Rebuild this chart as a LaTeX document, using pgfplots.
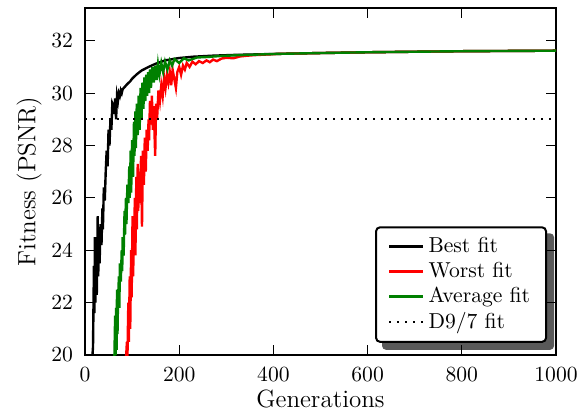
\documentclass[border=0pt]{standalone}
\usepackage{fontspec}
\usepackage{pgfplots}
\pgfplotsset{compat=1.18}
\pgfdeclarelayer{background}
\pgfsetlayers{background,main}
\definecolor{mplgreen}{rgb}{0,0.5,0}

\begin{document}
\begin{tikzpicture}
\useasboundingbox (-42.5pt,-31pt) rectangle (248.5pt,177.5pt);
\begin{axis}[
    scale only axis,
    width=235.5pt, height=173.5pt,
    xmin=0, xmax=1000, ymin=20, ymax=33.25,
    xtick={0,200,...,1000}, ytick={20,22,...,32},
    tick align=inside,
    major tick length=5pt,
    axis line style={line width=1pt},
    every tick/.style={black, line width=0.6pt},
    /pgf/number format/assume math mode=true,
    /pgf/number format/set thousands separator={},
    tick label style={font=\fontsize{10.8}{13}\selectfont},
    yticklabel style={xshift=-2.5pt},
    xticklabel style={yshift=-2.5pt},
    label style={font=\fontsize{12.5}{15}\selectfont},
    xlabel={Generations},
    ylabel={Fitness (PSNR)},
    xlabel style={yshift=3pt},
    ylabel style={yshift=-2pt},
    legend cell align=left,
    legend style={
        name=leg,
        at={(0.981,0.035)}, anchor=south east,
        line width=1pt, draw=black, fill=white, rounded corners=2pt,
        row sep=-0.6pt, inner xsep=6pt, inner ysep=3pt,
        font=\fontsize{10.8}{13}\selectfont,
        /tikz/every even column/.append style={column sep=7pt},
    },
    every axis plot/.append style={line width=1.2pt},
]
% Best fit
\addplot[black] coordinates {
(14,19.5) (17,20.3) (19,23.4) (20,21.6) (21,24.5) (22,22.0) (24,23.8) (25,22.3)
(27,25.3) (28,23.0) (30,24.6) (31,23.5) (33,25.0) (35,24.2) (37,25.6) (38,24.8)
(40,26.4) (42,25.9) (44,27.0) (46,27.8) (48,27.2) (50,28.6) (52,28.0) (54,29.0)
(56,28.6) (58,29.6) (60,29.5) (62,29.2) (64,29.8) (66,29.0) (68,29.9) (70,29.7)
(72,30.0) (74,29.9) (76,30.1) (78,30.0) (80,30.15) (85,30.25) (90,30.35) (96,30.45)
(100,30.55) (110,30.72) (120,30.86) (135,31.0) (150,31.12) (170,31.25) (200,31.34)
(230,31.39) (272,31.43) (320,31.46) (414,31.5) (500,31.53) (600,31.56) (700,31.58)
(800,31.6) (900,31.61) (1000,31.62)
};
\addlegendentry{Best fit}
% Worst fit
\addplot[red] coordinates {
(86,19.5) (89,20.5) (90,19.8) (92,22.0) (93,20.5) (95,23.0) (96,21.0) (98,24.0)
(99,22.2) (101,25.3) (102,23.0) (104,24.5) (106,26.0) (107,23.8) (109,26.8) (110,24.8)
(112,27.3) (113,25.5) (115,27.0) (117,25.8) (119,27.6) (121,24.9) (123,27.8) (125,26.5)
(127,28.3) (129,27.0) (131,28.6) (133,27.8) (135,29.0) (136,28.2) (138,29.7) (140,28.8)
(142,29.9) (144,28.6) (146,29.5) (149,27.6) (151,29.6) (153,29.0) (156,30.1) (159,29.7)
(162,30.3) (165,29.9) (168,30.6) (171,30.2) (174,30.7) (177,30.4) (180,30.8) (183,30.3)
(186,30.9) (190,30.5) (193,30.2) (196,30.8) (200,31.0) (204,30.7) (208,31.05) (212,30.9)
(216,31.15) (222,31.0) (228,31.2) (235,31.1) (242,31.22) (250,31.15) (258,31.25) (265,31.18)
(272,31.28) (280,31.22) (290,31.32) (301,31.35) (315,31.33) (329,31.4) (345,31.43)
(360,31.45) (414,31.5) (500,31.53) (600,31.56) (700,31.58) (800,31.6) (900,31.61) (1000,31.62)
};
\addlegendentry{Worst fit}
% Average fit
\addplot[mplgreen] coordinates {
(62,19.5) (64,21.5) (65,20.0) (66,21.8) (67,20.2) (68,22.5) (69,20.8) (70,22.0)
(72,23.0) (73,21.8) (74,23.5) (76,22.8) (78,24.0) (79,23.2) (80,24.5) (82,23.8)
(84,25.5) (85,24.6) (87,26.0) (88,25.0) (90,26.5) (92,25.8) (94,27.2) (95,26.0)
(97,27.8) (98,26.2) (100,28.2) (102,26.8) (104,28.9) (105,27.6) (107,29.3) (108,27.9)
(110,29.6) (112,28.4) (114,29.9) (116,28.6) (118,30.2) (120,29.0) (122,30.4) (124,29.4)
(126,30.6) (128,29.7) (130,30.7) (132,29.9) (134,30.8) (136,30.0) (138,30.9) (140,30.2)
(143,31.0) (146,30.4) (149,31.05) (152,30.5) (155,31.1) (158,30.7) (162,31.15) (166,30.8)
(170,31.2) (175,30.9) (180,31.25) (185,31.05) (190,31.3) (200,31.15) (210,31.33) (220,31.25)
(238,31.36) (260,31.38) (290,31.42) (329,31.45) (414,31.5) (500,31.53) (600,31.56)
(700,31.58) (800,31.6) (900,31.61) (1000,31.62)
};
\addlegendentry{Average fit}
% D9/7 reference
\addplot[black, line width=1pt, dash pattern=on 1pt off 3pt] coordinates {(0,29) (1000,29)};
\addlegendentry{D9/7 fit}
\end{axis}
\begin{pgfonlayer}{background}
\fill[black!65, rounded corners=2pt] ([xshift=3.5pt,yshift=-3.5pt]leg.south west) rectangle ([xshift=3.5pt,yshift=-3.5pt]leg.north east);
\end{pgfonlayer}
\end{tikzpicture}
\end{document}
